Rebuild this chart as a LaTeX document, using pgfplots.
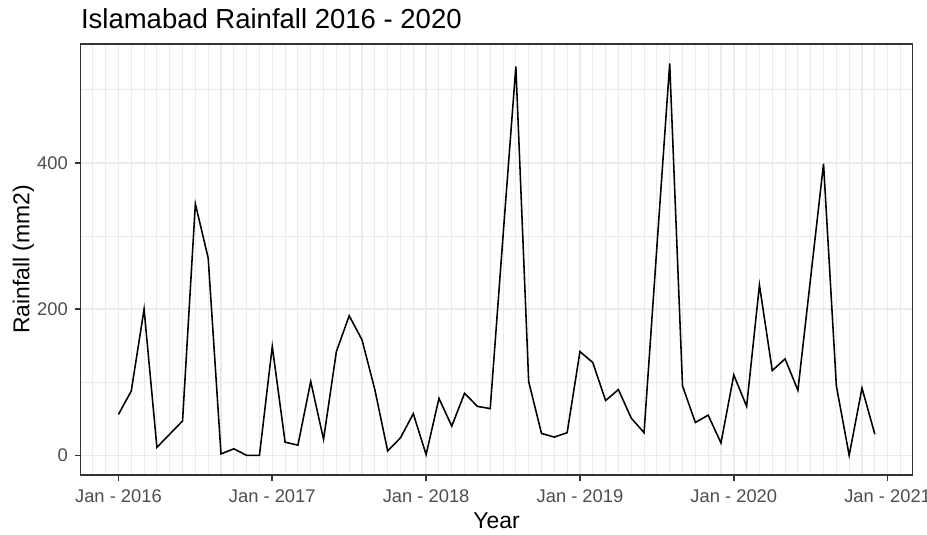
\documentclass[border=0pt]{standalone}
\usepackage{pgfplots}
\usepackage{pgfplotstable}
\pgfplotsset{compat=1.18}
\usepackage{fontspec}
\setmainfont{Liberation Sans}
\definecolor{gridc}{HTML}{EBEBEB}
\definecolor{greyA}{HTML}{333333}
\definecolor{greyB}{HTML}{4D4D4D}
\pgfplotstableread{
t rain
0 56
1 88
2 200
3 11
4 29
5 47
6 344
7 270
8 2
9 9
10 0
11 0
12 149
13 18
14 14
15 101
16 22
17 142
18 191
19 158
20 90
21 6
22 24
23 57
24 1
25 78
26 40
27 85
28 67
29 64
30 300
31 532
32 101
33 30
34 25
35 31
36 142
37 127
38 75
39 90
40 51
41 31
42 285
43 536
44 95
45 45
46 55
47 17
48 110
49 67
50 233
51 116
52 132
53 89
54 244
55 399
56 95
57 0
58 92
59 29
}\raindata
\begin{document}
\begin{tikzpicture}
\begin{axis}[
 name=ax,
 scale only axis,
 width=399.4pt, height=206.9pt,
 xmin=-2.95, xmax=61.95, ymin=-26.8, ymax=562.8,
 xtick={0,12,24,36,48,60},
 xticklabels={Jan - 2016, Jan - 2017, Jan - 2018, Jan - 2019, Jan - 2020, Jan - 2021},
 minor xtick={-2,-1,...,61},
 ytick={0,200,400},
 minor ytick={100,300,500},
 grid=both,
 major grid style={gridc, line width=0.7pt},
 minor grid style={gridc, line width=0.5pt},
 axis line style={greyA, line width=0.8pt},
 tick pos=left,
 tick align=outside,
 major tick length=2.75pt,
 minor tick length=0pt,
 major tick style={greyA, line width=0.8pt},
 /pgf/number format/assume math mode=true,
 tick label style={font=\fontsize{8.8}{10}\selectfont, text=greyB},
 xticklabel style={anchor=base, inner sep=0pt, yshift=-10.55pt},
 yticklabel style={anchor=east, inner sep=0pt, xshift=-3.2pt},
 xlabel={Year},
 ylabel={Rainfall (mm2)},
 title={Islamabad Rainfall 2016 - 2020},
 every axis x label/.style={at={(rel axis cs:0.5,-0.1237)}, anchor=base, font=\fontsize{11}{13}\selectfont},
 every axis y label/.style={at={(rel axis cs:-0.0615,0.5)}, rotate=90, anchor=base, font=\fontsize{11}{13}\selectfont},
 every axis title/.style={at={(rel axis cs:0,1.0362)}, anchor=base west, inner sep=0pt, font=\fontsize{13.2}{15}\selectfont},
]
\addplot[black, line width=0.75pt, mark=none] table[x=t, y=rain] {\raindata};
\end{axis}
\pgfresetboundingbox
\path[use as bounding box] ([xshift=-38.7pt,yshift=-28.8pt]ax.south west) rectangle ([xshift=6.9pt,yshift=21.1pt]ax.north east);
\end{tikzpicture}
\end{document}
